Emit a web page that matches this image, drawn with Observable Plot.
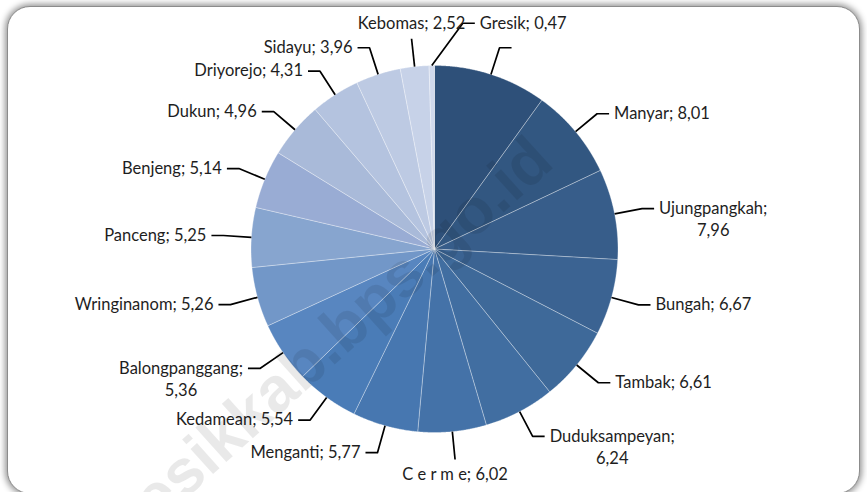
<!DOCTYPE html>
<html>
<head>
<meta charset="utf-8">
<script src="https://cdn.jsdelivr.net/npm/d3@7"></script>
<script src="https://cdn.jsdelivr.net/npm/@observablehq/plot@0.6"></script>
<style>
html, body { margin: 0; padding: 0; background: #ffffff; width: 867px; height: 492px; overflow: hidden; }
#frame { position: absolute; left: 7px; top: 6px; width: 853px; height: 488px; border-radius: 23px;
  background: #ffffff; border: 1px solid #8c8c8c; box-sizing: border-box;
  box-shadow: 0 0 6px 2px rgba(0,0,0,0.42); }
#chart { position: absolute; left: 0; top: 0; }
#wm { position: absolute; left: 318px; top: 350px; transform: translate(-50%, -50%) rotate(-42deg);
  font: bold 64px "Liberation Sans", Arial, sans-serif; color: rgba(0,0,0,0.085);
  white-space: nowrap; pointer-events: none; }
</style>
</head>
<body>
<div id="frame"></div>
<div id="chart"></div>
<div id="wm">gresikkab.bps.go.id</div>
<script>
// ---- data ----
const names = ["Sangkapura", "Manyar", "Ujungpangkah", "Bungah", "Tambak", "Duduksampeyan",
  "C e r m e", "Menganti", "Kedamean", "Balongpanggang", "Wringinanom", "Panceng",
  "Benjeng", "Dukun", "Driyorejo", "Sidayu", "Kebomas", "Gresik"];
const values = [9.95, 8.01, 7.96, 6.67, 6.61, 6.24, 6.02, 5.77, 5.54, 5.36, 5.26, 5.25,
  5.14, 4.96, 4.31, 3.96, 2.52, 0.47];
const hiddenLabels = ["Sangkapura"]; // its label text is not shown in the picture

// ---- style ----
const sliceColors = ["#2e5079", "#325781", "#375d8a", "#3b6392", "#3e6999", "#416ea1",
  "#4472a8", "#4777b0", "#4a7cb7", "#5886c0", "#7297c8", "#87a5cf",
  "#99acd4", "#a9bad9", "#b4c3df", "#bdcae3", "#c7d2e8", "#d0d9ec"];

// ---- layout constants ----
const W = 867, H = 492;
const CX = 434, CY = 248.5, R = 183.5;
const LEAD = 28, HSEG = 12, GAP = 5, FONT = 16.5, LINE_H = 22, HALF = 10, PAD = 3;
const FONTFAM = "Lato";

const rows = names.map((name, i) => ({name, value: values[i]}));
const arcs = d3.pie().sort(null).value(d => d.value)(rows);
const fmt = v => v.toFixed(2).replace(".", ",");

// slice polygons in pixel units relative to the pie centre
const slicePts = arcs.flatMap(a => {
  const name = a.data.name;
  const n = Math.max(2, Math.ceil((a.endAngle - a.startAngle) / (Math.PI / 720)));
  const pts = [{name, x: 0, y: 0}];
  for (let k = 0; k <= n; k++) {
    const t = a.startAngle + (a.endAngle - a.startAngle) * k / n;
    pts.push({name, x: R * Math.sin(t), y: -R * Math.cos(t)});
  }
  pts.push({name, x: 0, y: 0});
  return pts;
});

// label text + measurement
const ctx = document.createElement("canvas").getContext("2d");
ctx.font = `${FONT}px ${FONTFAM}`;
const labels = arcs.map(a => {
  const name = a.data.name, val = fmt(a.data.value);
  const lines = name.replace(/ /g, "").length >= 12 ? [name + ";", val] : [`${name}; ${val}`];
  const width = Math.max(...lines.map(t => ctx.measureText(t).width));
  return {name, value: a.data.value, theta: (a.startAngle + a.endAngle) / 2, lines, width,
    hidden: hiddenLabels.includes(name)};
});

function layout(lab, phi, rad) {
  const s = Math.sin(phi), c = Math.cos(phi);
  const ex = rad * s, ey = -rad * c;
  const n = lab.lines.length, w = lab.width;
  let mode, hx = ex, lines, x0, x1;
  if (Math.abs(s) < 0.12) {
    mode = "middle";
    x0 = ex - w / 2; x1 = ex + w / 2;
    if (c > 0) {
      const lastY = ey - 5 - HALF;
      lines = lab.lines.map((t, k) => ({text: t, x: ex, y: lastY - (n - 1 - k) * LINE_H, anchor: "middle"}));
    } else {
      const firstY = ey + 5 + HALF;
      lines = lab.lines.map((t, k) => ({text: t, x: ex, y: firstY + k * LINE_H, anchor: "middle"}));
    }
  } else {
    const dir = s > 0 ? 1 : -1;
    mode = dir > 0 ? "right" : "left";
    hx = ex + dir * HSEG;
    const tx0 = hx + dir * GAP;
    lines = lab.lines.map((t, k) => n === 1
      ? {text: t, x: tx0, y: ey, anchor: dir > 0 ? "start" : "end"}
      : {text: t, x: tx0 + dir * w / 2, y: ey + k * LINE_H, anchor: "middle"});
    x0 = Math.min(hx, tx0 + dir * w); x1 = Math.max(hx, tx0 + dir * w);
  }
  const ys = lines.map(l => l.y);
  return {mode, ex, ey, hx, lines, x0, x1, y0: Math.min(...ys) - HALF, y1: Math.max(...ys) + HALF};
}

function boxOk(b, placed) {
  if (b.x0 < -CX + 14 || b.x1 > W - CX - 14 || b.y0 < -CY + 12 || b.y1 > H - CY - 4) return false;
  const nx = Math.max(b.x0, Math.min(0, b.x1)), ny = Math.max(b.y0, Math.min(0, b.y1));
  if (Math.hypot(nx, ny) < R + 3) return false;
  return placed.every(p => b.x1 + PAD <= p.x0 || p.x1 + PAD <= b.x0 || b.y1 + PAD <= p.y0 || p.y1 + PAD <= b.y0);
}

// candidate offsets, cheapest first
const cands = [];
for (let dr = 0; dr <= 60; dr += 2)
  for (let dp = -25; dp <= 25; dp += 1) cands.push({dr, dp, cost: Math.abs(dp) + 0.5 * dr});
cands.sort((a, b) => a.cost - b.cost);

const order = labels.map((l, i) => i).sort((a, b) => labels[b].value - labels[a].value);
const placedBoxes = [];
const placed = new Array(labels.length);
for (const i of order) {
  const lab = labels[i];
  let best = null;
  for (const cd of cands) {
    const b = layout(lab, lab.theta + cd.dp * Math.PI / 180, R + LEAD + cd.dr);
    if (boxOk(b, placedBoxes)) { best = b; break; }
  }
  if (!best) best = layout(lab, lab.theta, R + LEAD);
  placed[i] = {...best, name: lab.name, theta: lab.theta, hidden: lab.hidden};
  placedBoxes.push(best);
}

const leaderPts = placed.flatMap(p => {
  const pts = [{name: p.name, x: R * Math.sin(p.theta), y: -R * Math.cos(p.theta)},
               {name: p.name, x: p.ex, y: p.ey}];
  if (p.mode !== "middle") pts.push({name: p.name, x: p.hx, y: p.ey});
  return pts;
});
const textRows = placed.filter(p => !p.hidden).flatMap(p => p.lines);

const chart = Plot.plot({
  width: W, height: H, margin: 0,
  style: {background: "transparent", overflow: "visible"},
  x: {domain: [-CX, W - CX], range: [0, W], axis: null},
  y: {domain: [-CY, H - CY], range: [0, H], axis: null},
  color: {domain: names, range: sliceColors},
  marks: [
    Plot.line(slicePts, {x: "x", y: "y", z: "name", fill: "name", stroke: "#ffffff",
      strokeOpacity: 0.45, strokeWidth: 0.7, curve: "linear"}),
    Plot.line(leaderPts, {x: "x", y: "y", z: "name", stroke: "#000000", strokeWidth: 1.7,
      strokeLinecap: "butt", curve: "linear"}),
    ...["start", "middle", "end"].map(anc =>
      Plot.text(textRows.filter(d => d.anchor === anc), {x: "x", y: "y", text: "text",
        textAnchor: anc, fontSize: FONT, fontFamily: FONTFAM, fill: "#1e1e1e"}))
  ]
});
document.getElementById("chart").appendChild(chart);
</script>
</body>
</html>
